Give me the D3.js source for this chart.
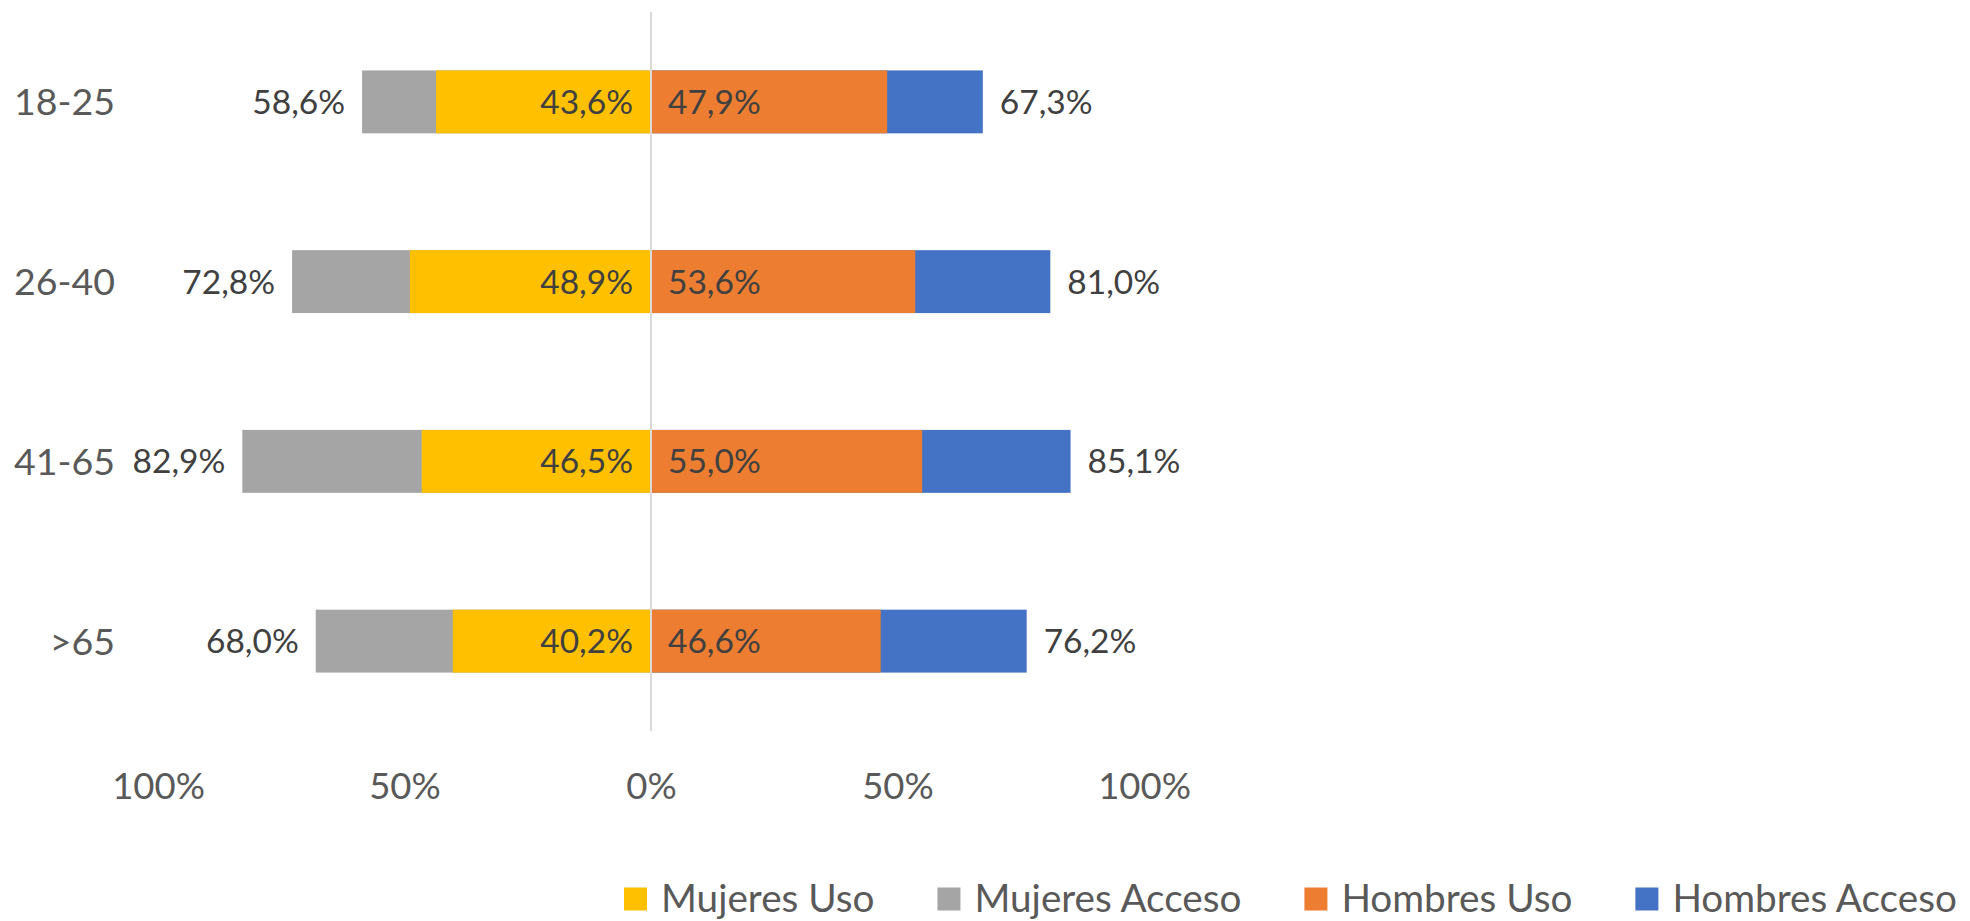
<!DOCTYPE html>
<html>
<head>
<meta charset="utf-8">
<script src="https://cdn.jsdelivr.net/npm/d3@7"></script>
<style>
  body { margin: 0; background: #fff; }
  svg { display: block; font-family: Lato, "Open Sans", sans-serif; }
</style>
</head>
<body>
<div id="chart"></div>
<script>
// age groups and series values (fractions)
const ageGroups = ["18-25", "26-40", "41-65", ">65"];
const mujeresUso = [0.436, 0.489, 0.465, 0.402];
const mujeresAcceso = [0.586, 0.728, 0.829, 0.680];
const hombresUso = [0.479, 0.536, 0.550, 0.466];
const hombresAcceso = [0.673, 0.810, 0.851, 0.762];
const axisTicks = [-1, -0.5, 0, 0.5, 1];
const legendNames = ["Mujeres Uso", "Mujeres Acceso", "Hombres Uso", "Hombres Acceso"];

const colors = {
  "Mujeres Uso": "#FFC000",
  "Mujeres Acceso": "#A5A5A5",
  "Hombres Uso": "#ED7D31",
  "Hombres Acceso": "#4472C4"
};

const width = 1970, height = 921;

const svg = d3.select("#chart").append("svg")
  .attr("width", width)
  .attr("height", height);

const x = d3.scaleLinear().domain([-1, 1]).range([158, 1144]);
const y = d3.scaleBand().domain(ageGroups).range([12, 731])
  .paddingInner(0.65).paddingOuter(0.325);

const fmt = v => d3.format(".1f")(v * 100).replace(".", ",") + "%";

// build rows: acceso drawn first (behind), uso on top
const bars = [];
ageGroups.forEach((g, i) => {
  bars.push({ g, v: -mujeresAcceso[i], s: "Mujeres Acceso" });
  bars.push({ g, v: hombresAcceso[i], s: "Hombres Acceso" });
  bars.push({ g, v: -mujeresUso[i], s: "Mujeres Uso" });
  bars.push({ g, v: hombresUso[i], s: "Hombres Uso" });
});

svg.append("g").selectAll("rect")
  .data(bars)
  .join("rect")
  .attr("x", d => Math.min(x(0), x(d.v)))
  .attr("y", d => y(d.g))
  .attr("width", d => Math.abs(x(d.v) - x(0)))
  .attr("height", y.bandwidth())
  .attr("fill", d => colors[d.s]);

// zero line over the bars
svg.append("line")
  .attr("x1", x(0)).attr("x2", x(0))
  .attr("y1", 12).attr("y2", 731)
  .attr("stroke", "#d9d9d9").attr("stroke-width", 2);

// data labels
const labels = svg.append("g")
  .attr("font-size", 33.5)
  .attr("fill", "#404040");

labels.selectAll("text")
  .data(bars)
  .join("text")
  .attr("x", d => {
    if (d.s.endsWith("Uso")) return d.v < 0 ? x(0) - 18 : x(0) + 17;
    return d.v < 0 ? x(d.v) - 17 : x(d.v) + 17;
  })
  .attr("y", d => y(d.g) + y.bandwidth() / 2)
  .attr("dy", "0.36em")
  .attr("text-anchor", d => d.v < 0 ? "end" : "start")
  .text(d => fmt(Math.abs(d.v)));

// category labels
svg.append("g").selectAll("text")
  .data(ageGroups)
  .join("text")
  .attr("x", 115)
  .attr("y", d => y(d) + y.bandwidth() / 2)
  .attr("dy", "0.36em")
  .attr("text-anchor", "end")
  .attr("font-size", 37.5)
  .attr("fill", "#595959")
  .text(d => d);

// bottom axis
const xAxis = d3.axisBottom(x)
  .tickValues(axisTicks)
  .tickSize(0)
  .tickPadding(0)
  .tickFormat(d => Math.round(Math.abs(d) * 100) + "%");

const ax = svg.append("g")
  .attr("transform", "translate(0,786)")
  .call(xAxis);
ax.select(".domain").remove();
ax.selectAll("text")
  .attr("dy", "0.36em")
  .attr("font-size", 36.5)
  .attr("font-family", "Lato, 'Open Sans', sans-serif")
  .attr("fill", "#595959");

// legend
const legend = svg.append("g").attr("transform", "translate(0,899)");
let lx = 624;
legendNames.forEach(name => {
  const item = legend.append("g").attr("transform", `translate(${lx},0)`);
  item.append("rect")
    .attr("x", 0).attr("y", -11.5)
    .attr("width", 23).attr("height", 23)
    .attr("fill", colors[name]);
  const t = item.append("text")
    .attr("x", 37)
    .attr("dy", "0.34em")
    .attr("font-size", 38.7)
    .attr("fill", "#595959")
    .text(name);
  lx += 37 + t.node().getComputedTextLength() + 63;
});
</script>
</body>
</html>
